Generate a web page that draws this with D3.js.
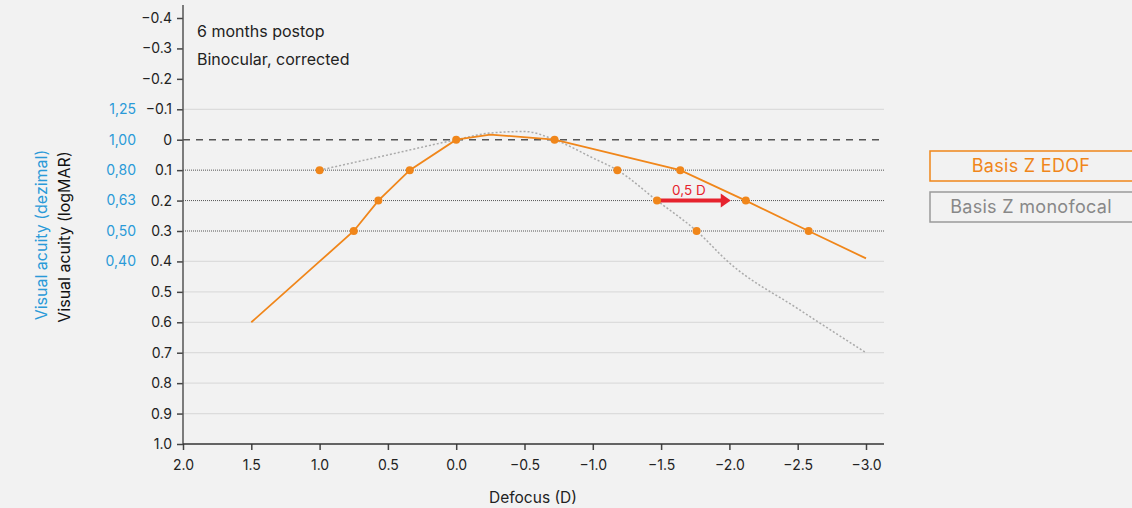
<!DOCTYPE html>
<html>
<head>
<meta charset="utf-8">
<script src="https://cdn.jsdelivr.net/npm/d3@7"></script>
<style>
  body { margin: 0; background: #f2f2f2; }
  svg { display: block; font-family: Inter, "Noto Sans", sans-serif; }
</style>
</head>
<body>
<script>
// defocus (D) / logMAR
const edofLine = [[1.5, 0.6], [1.0, 0.4], [0.75, 0.3], [0.57, 0.2], [0.34, 0.1], [0, 0],
    [-0.25, -0.017], [-0.72, 0], [-1.64, 0.1], [-2.12, 0.2], [-2.58, 0.3], [-3.0, 0.39]];
const edofDots = [[0.75, 0.3], [0.57, 0.2], [0.34, 0.1], [0, 0], [-0.72, 0], [-1.64, 0.1], [-2.12, 0.2], [-2.58, 0.3]];
const monoLine = [[1.0, 0.1], [0.5, 0.05], [0, 0.0], [-0.25, -0.022], [-0.5, -0.027], [-0.72, 0],
    [-1.0, 0.06], [-1.18, 0.1], [-1.47, 0.2], [-1.76, 0.3], [-2.0, 0.405], [-2.5, 0.555], [-3.0, 0.70]];
const monoDots = [[1.0, 0.1], [-1.18, 0.1], [-1.47, 0.2], [-1.76, 0.3]];
const arrowFrom = [-1.47, 0.2], arrowTo = [-2.01, 0.2];
const arrowLabel = "0,5 D";

const xTicks = [2.0, 1.5, 1.0, 0.5, 0.0, -0.5, -1.0, -1.5, -2.0, -2.5, -3.0];
const yTicks = [-0.4, -0.3, -0.2, -0.1, 0, 0.1, 0.2, 0.3, 0.4, 0.5, 0.6, 0.7, 0.8, 0.9, 1.0];
const lightGrid = [-0.1, 0.4, 0.5, 0.6, 0.7, 0.8, 0.9];
const dottedGrid = [0.1, 0.2, 0.3];
const decimalLogmar = [-0.1, 0, 0.1, 0.2, 0.3, 0.4];
const decimalLabels = ["1,25", "1,00", "0,80", "0,63", "0,50", "0,40"];
const legendNames = ["Basis Z EDOF", "Basis Z monofocal"];

const W = 1132, H = 508;
const orange = "#f0861a", grey = "#9a9a9a", blue = "#2a9ad8", red = "#e6232e";

const x = d3.scaleLinear().domain([2, -3]).range([183, 866]);
const y = d3.scaleLinear().domain([-0.4, 1.0]).range([18, 444]);
const xEnd = 884;

const svg = d3.select("body").append("svg").attr("width", W).attr("height", H);

// grid
svg.selectAll(".lg").data(lightGrid).enter().append("line")
    .attr("x1", x(2)).attr("x2", xEnd).attr("y1", d => y(d)).attr("y2", d => y(d))
    .attr("stroke", "#dcdcdc").attr("stroke-width", 1.2);
svg.selectAll(".dg").data(dottedGrid).enter().append("line")
    .attr("x1", x(2)).attr("x2", xEnd).attr("y1", d => y(d)).attr("y2", d => y(d))
    .attr("stroke", "#555").attr("stroke-width", 1).attr("stroke-dasharray", "1,1");
svg.append("line")
    .attr("x1", x(2)).attr("x2", xEnd).attr("y1", y(0)).attr("y2", y(0))
    .attr("stroke", "#555").attr("stroke-width", 1.5).attr("stroke-dasharray", "7,6");

// axes
const yAxis = svg.append("g").attr("transform", `translate(${x(2)},0)`)
    .call(d3.axisLeft(y).tickValues(yTicks).tickSize(6).tickPadding(5)
        .tickFormat(d => d === 0 ? "0" : d3.format(".1f")(d)));
yAxis.select(".domain").remove();
yAxis.append("line").attr("y1", 5).attr("y2", y(1.0)).attr("stroke", "#555").attr("stroke-width", 1.5);

const xAxis = svg.append("g").attr("transform", `translate(0,${y(1.0)})`)
    .call(d3.axisBottom(x).tickValues(xTicks).tickSize(6).tickPadding(10).tickFormat(d3.format(".1f")));
xAxis.select(".domain").remove();
xAxis.append("line").attr("x1", x(2)).attr("x2", xEnd).attr("stroke", "#333").attr("stroke-width", 1.5);

svg.selectAll(".tick line").attr("stroke", "#444").attr("stroke-width", 1.5);
svg.selectAll(".tick text").attr("fill", "#222").style("font-size", "14px").style("font-family", "Inter, sans-serif");

// decimal labels
svg.selectAll(".dec").data(decimalLogmar).enter().append("text")
    .attr("x", 136).attr("y", d => y(d)).attr("dy", "0.35em")
    .attr("text-anchor", "end").attr("fill", blue).style("font-size", "14px")
    .text((d, i) => decimalLabels[i]);

// axis titles
svg.append("text").attr("transform", "translate(41,235) rotate(-90)")
    .attr("text-anchor", "middle").attr("dy", "0.35em").style("font-size", "16px")
    .attr("fill", blue).text("Visual acuity (dezimal)");
svg.append("text").attr("transform", "translate(64,237) rotate(-90)")
    .attr("text-anchor", "middle").attr("dy", "0.35em").style("font-size", "16px")
    .attr("fill", "#111").text("Visual acuity (logMAR)");
svg.append("text").attr("x", 533).attr("y", 503).attr("text-anchor", "middle")
    .style("font-size", "15.5px").attr("fill", "#222").text("Defocus (D)");

// annotations
svg.append("text").attr("x", 197).attr("y", 37).style("font-size", "16px").attr("fill", "#222").text("6 months postop");
svg.append("text").attr("x", 197).attr("y", 65).style("font-size", "16px").attr("fill", "#222").text("Binocular, corrected");

// lines
const line = d3.line().x(d => x(d[0])).y(d => y(d[1]));
svg.append("path").datum(monoLine)
    .attr("d", line.curve(d3.curveMonotoneX))
    .attr("fill", "none").attr("stroke", "#aaa").attr("stroke-width", 1.5).attr("stroke-dasharray", "2,2");
svg.append("path").datum(edofLine)
    .attr("d", d3.line().x(d => x(d[0])).y(d => y(d[1])))
    .attr("fill", "none").attr("stroke", orange).attr("stroke-width", 1.8);

// arrow
svg.append("line")
    .attr("x1", x(arrowFrom[0])).attr("x2", x(arrowTo[0]) - 9)
    .attr("y1", y(arrowFrom[1])).attr("y2", y(arrowTo[1]))
    .attr("stroke", red).attr("stroke-width", 4);
svg.append("path")
    .attr("d", `M${x(arrowTo[0]) - 10},${y(arrowTo[1]) - 7} L${x(arrowTo[0])},${y(arrowTo[1])} L${x(arrowTo[0]) - 10},${y(arrowTo[1]) + 7} Z`)
    .attr("fill", red);
svg.append("text")
    .attr("x", (x(arrowFrom[0]) + x(arrowTo[0])) / 2 - 5).attr("y", y(arrowFrom[1]) - 6)
    .attr("text-anchor", "middle").style("font-size", "13.5px").attr("fill", red).text(arrowLabel);

// dots
svg.selectAll(".dot").data(edofDots.concat(monoDots)).enter().append("circle")
    .attr("cx", d => x(d[0])).attr("cy", d => y(d[1])).attr("r", 4)
    .attr("fill", orange);

// legend
const legend = svg.selectAll(".leg").data(legendNames).enter().append("g")
    .attr("transform", (d, i) => `translate(930,${151 + i * 41})`);
legend.append("rect").attr("width", 205).attr("height", 30)
    .attr("fill", "none").attr("stroke", (d, i) => i === 0 ? orange : grey).attr("stroke-width", 1.5);
legend.append("text").attr("x", 101).attr("y", 15).attr("dy", "0.35em")
    .attr("text-anchor", "middle").style("font-size", "18px").style("letter-spacing", "0.3px")
    .attr("fill", (d, i) => i === 0 ? orange : "#888").text(d => d);
</script>
</body>
</html>
